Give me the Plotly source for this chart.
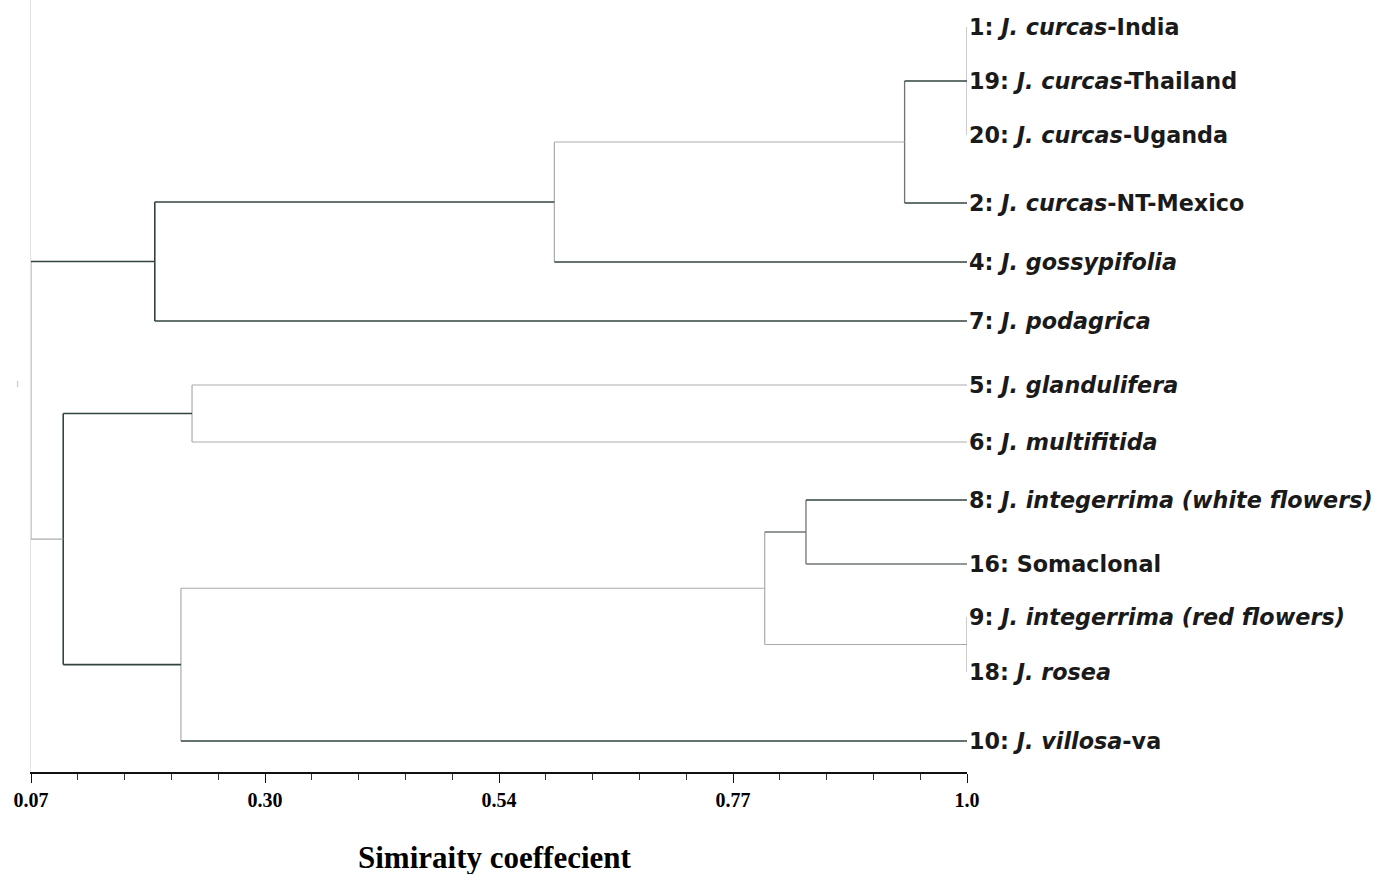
import plotly.graph_objects as go

# ---------------- data ----------------
leaf_ids = ["1", "19", "20", "2", "4", "7", "5", "6", "8", "16", "9", "18", "10"]
leaf_labels = [
    "1: <i>J. curcas</i>-India",
    "19: <i>J. curcas</i>-Thailand",
    "20: <i>J. curcas</i>-Uganda",
    "2: <i>J. curcas</i>-NT-Mexico",
    "4: <i>J. gossypifolia</i>",
    "7: <i>J. podagrica</i>",
    "5: <i>J. glandulifera</i>",
    "6: <i>J. multifitida</i>",
    "8: <i>J. integerrima (white flowers)</i>",
    "16: Somaclonal",
    "9: <i>J. integerrima (red flowers)</i>",
    "18: <i>J. rosea</i>",
    "10: <i>J. villosa</i>-va",
]
# vertical position of each leaf row (top = 0)
leaf_rows = [27, 81, 135, 203, 262, 321, 385, 442, 500, 564, 617, 672, 741]

# internal clusters: children and similarity at merge
merge_names = ["D", "C", "B", "A", "F", "I", "J", "H", "G", "E", "R"]
merge_children = [
    ["1", "19", "20"],
    ["D", "2"],
    ["C", "4"],
    ["B", "7"],
    ["5", "6"],
    ["8", "16"],
    ["9", "18"],
    ["I", "J"],
    ["H", "10"],
    ["F", "G"],
    ["A", "E"],
]
merge_similarity = [1.0, 0.938, 0.590, 0.193, 0.230, 0.840, 1.0, 0.799, 0.219, 0.102, 0.07]

tick_values = [0.07, 0.3025, 0.535, 0.7675, 1.0]
tick_labels = ["0.07", "0.30", "0.54", "0.77", "1.0"]
x_title = "Simiraity coeffecient"

# ---------------- styles ----------------
DARK = dict(color="#33433d", width=1.6)
MED = dict(color="#6f7472", width=1.3)
LIGHT = dict(color="#a9abaa", width=1.2)
branch_style = {"A": DARK, "B": DARK, "7": DARK, "4": DARK, "D": DARK, "2": DARK,
                "F": DARK, "G": DARK, "10": DARK, "8": DARK,
                "16": MED, "I": MED}
vertical_style = {"A": DARK, "E": DARK, "C": MED, "I": MED}

# ---------------- build tree geometry ----------------
height = {lid: 1.0 for lid in leaf_ids}
ypos = {lid: r for lid, r in zip(leaf_ids, leaf_rows)}
for name, kids, sim in zip(merge_names, merge_children, merge_similarity):
    height[name] = sim
    if len(kids) == 3:
        ypos[name] = ypos[kids[1]]
    else:
        ypos[name] = sum(ypos[k] for k in kids) / len(kids)

fig = go.Figure()

def seg(xs, ys, style):
    fig.add_trace(go.Scatter(x=xs, y=ys, mode="lines", line=style,
                             hoverinfo="skip", showlegend=False))

for name, kids in zip(merge_names, merge_children):
    h = height[name]
    ys = [ypos[k] for k in kids]
    seg([h, h], [min(ys), max(ys)], vertical_style.get(name, LIGHT))
    for k in kids:
        if height[k] > h:
            seg([h, height[k]], [ypos[k], ypos[k]], branch_style.get(k, LIGHT))

for lid, lab in zip(leaf_ids, leaf_labels):
    fig.add_annotation(x=1.0, y=ypos[lid], text="<b>" + lab + "</b>", showarrow=False,
                       xanchor="left", yanchor="middle", xshift=0,
                       font=dict(family="DejaVu Sans", size=22.3, color="#1a1a1a"))

PLOT_W, PLOT_H = 936, 772
fig.add_annotation(x=(495 - 31) / PLOT_W, xref="paper",
                   y=-(857 - PLOT_H) / PLOT_H, yref="paper",
                   text="<b>" + x_title + "</b>", showarrow=False,
                   xanchor="center", yanchor="middle",
                   font=dict(family="Liberation Serif", size=31, color="#000"))

fig.add_annotation(x=-17 / PLOT_W, xref="paper", y=383, yref="y", text="ı",
                   showarrow=False, font=dict(family="DejaVu Sans", size=11, color="#c4c4c4"))

fig.update_layout(
    width=1380, height=874,
    margin=dict(l=31, r=1380 - 31 - PLOT_W, t=0, b=874 - PLOT_H),
    paper_bgcolor="white", plot_bgcolor="white",
    xaxis=dict(range=[0.07, 1.0], tickvals=tick_values,
               ticktext=["<b>" + t + "</b>" for t in tick_labels],
               showgrid=False, zeroline=False, showline=True, linecolor="#111", linewidth=2,
               ticks="outside", ticklen=9, tickwidth=1.2, tickcolor="#111",
               minor=dict(dtick=0.0465, tick0=0.07, ticks="outside", ticklen=6,
                          tickcolor="#333", tickwidth=1),
               tickfont=dict(family="Liberation Serif", size=20, color="#000"),
               fixedrange=True),
    yaxis=dict(range=[PLOT_H, 0], showgrid=False, zeroline=False, showticklabels=False,
               showline=True, linecolor="#e2e2e2", linewidth=1, fixedrange=True),
)

fig.write_html("out.html")
